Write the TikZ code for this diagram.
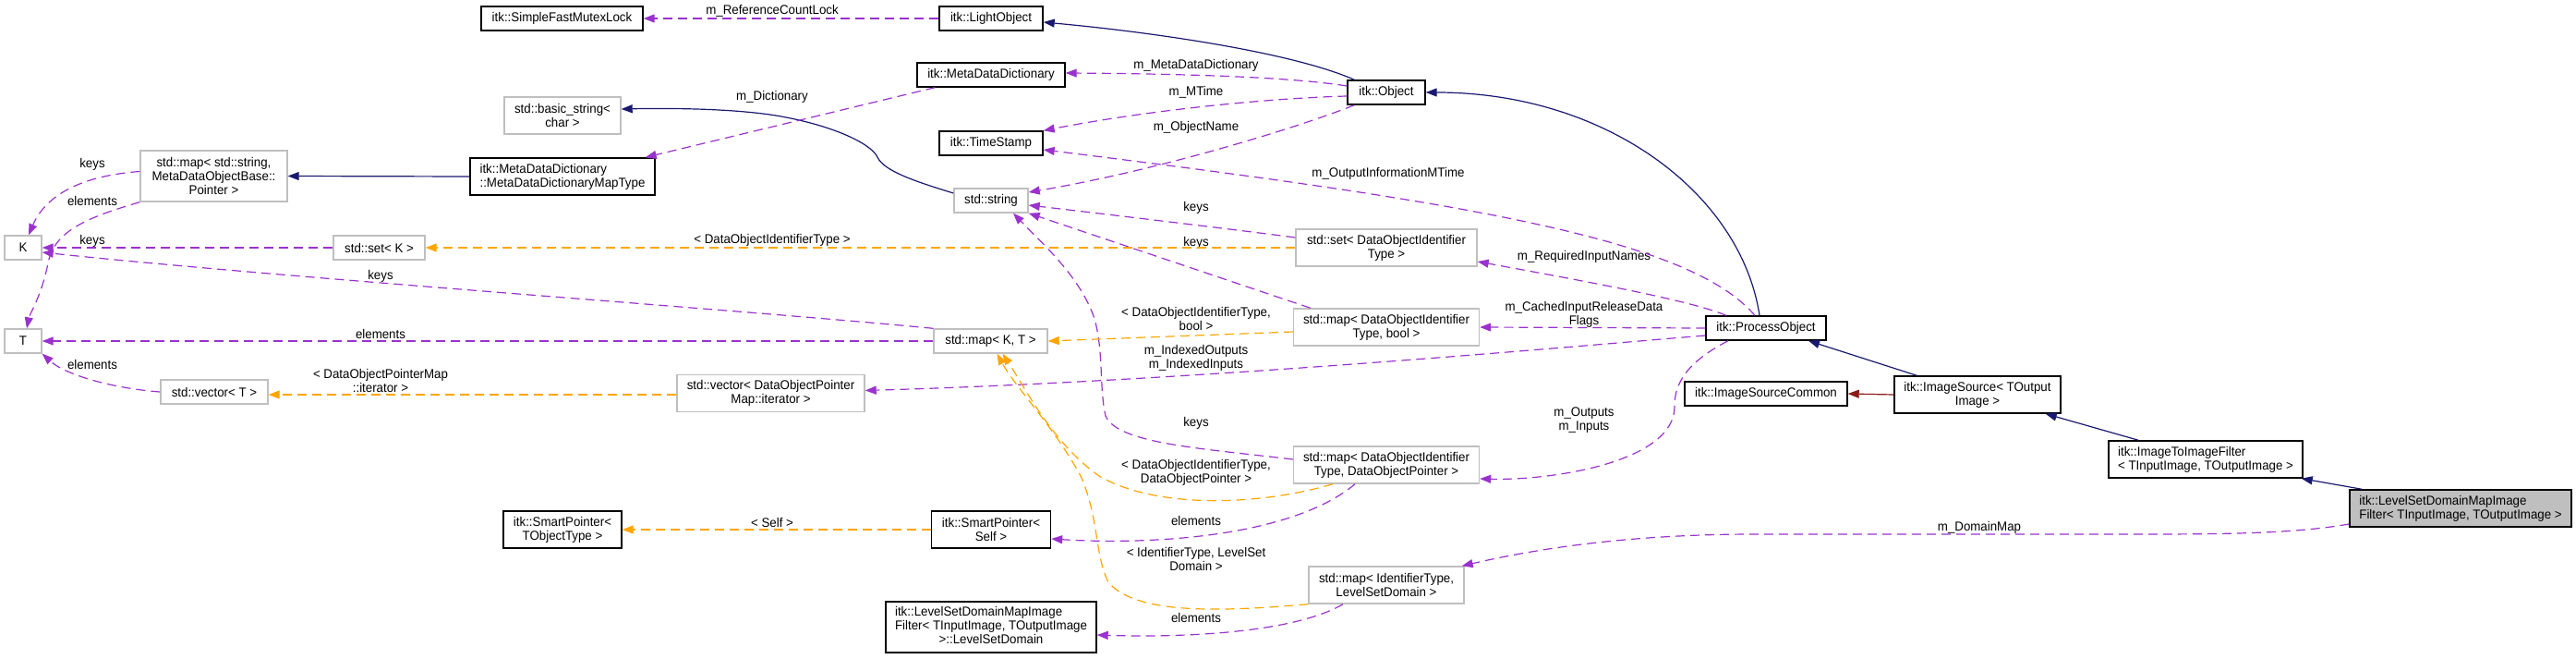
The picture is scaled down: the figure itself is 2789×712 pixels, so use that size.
\documentclass[tikz,border=0pt]{standalone}
\usepackage{fontspec}
\setmainfont{Liberation Sans}[FakeStretch=0.95]
\usetikzlibrary{arrows.meta}
\definecolor{navyc}{HTML}{191970}
\definecolor{purpc}{HTML}{9A32CD}
\definecolor{orngc}{HTML}{FFA500}
\definecolor{dredc}{HTML}{8B1A1A}
\definecolor{gbord}{HTML}{BFBFBF}
\definecolor{gfill}{HTML}{BFBFBF}
\begin{document}
\begin{tikzpicture}[x=1pt,y=-1pt,
  every node/.style={font=\fontsize{14}{15}\selectfont, inner sep=0pt},
  cls/.style={draw=black, line width=1.4pt, fill=white, minimum height=26pt, align=center},
  ucls/.style={draw=gbord, line width=1.4pt, fill=white, minimum height=26pt, align=center},
  two/.style={minimum height=40pt},
  three/.style={minimum height=55pt},
  lbl/.style={align=center},
  tip/.style={-{Triangle[length=12pt,width=9pt]}},
  inh/.style={tip, draw=navyc, line width=1.2pt},
  priv/.style={tip, draw=dredc, line width=1.2pt},
  use/.style={tip, draw=purpc, line width=1.2pt, dash pattern=on 10pt off 6pt},
  tmpl/.style={tip, draw=orngc, line width=1.2pt, dash pattern=on 10pt off 6pt},
]
\useasboundingbox (0,0) rectangle (2789,712);

% ---------- class boxes ----------
\node[cls, minimum width=175pt] (smfl) at (608.5,20) {itk::SimpleFastMutexLock};
\node[cls, minimum width=112pt] (light) at (1073,20) {itk::LightObject};
\node[cls, minimum width=160pt] (mdd) at (1073,81) {itk::MetaDataDictionary};
\node[ucls, two, minimum width=126pt] (bstr) at (609,125) {std::basic\_string<\\char >};
\node[cls, minimum width=112pt] (tstamp) at (1073,155) {itk::TimeStamp};
\node[cls, minimum width=84pt] (obj) at (1501,100) {itk::Object};
\node[ucls, three, minimum width=159pt] (mapss) at (231.5,190.5) {std::map< std::string,\\MetaDataObjectBase::\\Pointer >};
\node[cls, two, minimum width=200pt, align=left] (mddmt) at (609,191) {itk::MetaDataDictionary\\::MetaDataDictionaryMapType};
\node[ucls, minimum width=40pt] (K) at (25,268) {K};
\node[ucls, minimum width=99pt] (setK) at (410.5,268) {std::set< K >};
\node[ucls, minimum width=80pt] (str) at (1073,217) {std::string};
\node[ucls, two, minimum width=196pt] (setD) at (1501,268) {std::set< DataObjectIdentifier\\Type >};
\node[ucls, two, minimum width=201pt] (mapDb) at (1501,354) {std::map< DataObjectIdentifier\\Type, bool >};
\node[cls, minimum width=130pt] (proc) at (1912,355) {itk::ProcessObject};
\node[ucls, minimum width=40pt] (T) at (25,369) {T};
\node[ucls, minimum width=123pt] (mapKT) at (1072.5,369) {std::map< K, T >};
\node[ucls, minimum width=116pt] (vecT) at (232,424) {std::vector< T >};
\node[ucls, two, minimum width=203pt] (vecD) at (834.5,425.5) {std::vector< DataObjectPointer\\Map::iterator >};
\node[cls, minimum width=176pt] (isc) at (1912,426) {itk::ImageSourceCommon};
\node[cls, two, minimum width=180pt] (isrc) at (2141,427) {itk::ImageSource< TOutput\\Image >};
\node[cls, two, minimum width=210pt, align=left] (itif) at (2388,497) {itk::ImageToImageFilter\\< TInputImage, TOutputImage >};
\node[cls, two, minimum width=240pt, align=left, fill=gfill] (lsd) at (2664,550) {itk::LevelSetDomainMapImage\\Filter< TInputImage, TOutputImage >};
\node[ucls, two, minimum width=201pt] (mapDP) at (1501,503) {std::map< DataObjectIdentifier\\Type, DataObjectPointer >};
\node[cls, two, minimum width=128pt] (spT) at (609,573) {itk::SmartPointer<\\TObjectType >};
\node[cls, two, minimum width=129pt] (spS) at (1073,573) {itk::SmartPointer<\\Self >};
\node[ucls, two, minimum width=168pt] (mapIL) at (1501,633) {std::map< IdentifierType,\\LevelSetDomain >};
\node[cls, three, minimum width=228pt] (lsdom) at (1073,678.5) {\begin{tabular}{@{}l@{}}itk::LevelSetDomainMapImage\\Filter< TInputImage, TOutputImage\\\multicolumn{1}{@{}c@{}}{>::LevelSetDomain}\end{tabular}};

% ---------- edge labels ----------
\node[lbl] (l1) at (836,12) {m\_ReferenceCountLock};
\node[lbl] (l2) at (1295,71) {m\_MetaDataDictionary};
\node[lbl] (l3) at (1295,100) {m\_MTime};
\node[lbl] (l4) at (1295,138) {m\_ObjectName};
\node[lbl] (l5) at (836,105) {m\_Dictionary};
\node[lbl] (l6) at (1503,188) {m\_OutputInformationMTime};
\node[lbl] (l7) at (1295,225) {keys};
\node[lbl] (l8) at (1295,263) {keys};
\node[lbl] (l9) at (836,260) {< DataObjectIdentifierType >};
\node[lbl] (l10) at (1715,278) {m\_RequiredInputNames};
\node[lbl] (l11) at (1715,340) {m\_CachedInputReleaseData\\Flags};
\node[lbl] (l12) at (1295,345) {< DataObjectIdentifierType,\\bool >};
\node[lbl] (l13) at (1295,387) {m\_IndexedOutputs\\m\_IndexedInputs};
\node[lbl] (l14) at (1295,458) {keys};
\node[lbl] (l15) at (1715,455) {m\_Outputs\\m\_Inputs};
\node[lbl] (l16) at (1295,511) {< DataObjectIdentifierType,\\DataObjectPointer >};
\node[lbl] (l17) at (1295,563) {elements};
\node[lbl] (l18) at (1295,605) {< IdentifierType, LevelSet\\Domain >};
\node[lbl] (l19) at (1295,668) {elements};
\node[lbl] (l20) at (836,565) {< Self >};
\node[lbl] (l21) at (2143,571) {m\_DomainMap};
\node[lbl] (l22) at (100,178) {keys};
\node[lbl] (l23) at (100,217) {elements};
\node[lbl] (l24) at (100,261) {keys};
\node[lbl] (l25) at (412,299) {keys};
\node[lbl] (l26) at (412,361) {elements};
\node[lbl] (l27) at (100,394) {elements};
\node[lbl] (l28) at (412,412) {< DataObjectPointerMap\\::iterator >};

% ---------- inheritance ----------
\draw[inh] ([xshift=8pt]obj.north west) .. controls (1400,57) and (1250,35) .. ([yshift=-4pt]light.east);
\draw[inh] ([yshift=8pt]str.west) .. controls (990,196) and (957,185) .. (950,170) .. controls (943,155) and (900,135) .. (840,125) .. controls (790,117) and (720,117) .. ([yshift=7pt]bstr.east);
\draw[inh] (mddmt.west) -- (mapss.east);
\draw[inh] ([xshift=-7pt]proc.north) .. controls (1885,210) and (1740,100) .. (obj.east);
\draw[inh] ([xshift=25pt]isrc.north west) -- ([xshift=46pt]proc.south);
\draw[inh] ([xshift=33pt]itif.north west) -- ([xshift=-17pt]isrc.south east);
\draw[inh] ([xshift=14pt]lsd.north west) -- ([xshift=-2pt]itif.south east);
\draw[priv] (isrc.west) -- (isc.east);

% ---------- usage (members) ----------
\draw[use] (light.west) -- (smfl.east);
\draw[use] ([yshift=7pt]obj.west) .. controls (1400,84) and (1300,80) .. ([yshift=2pt]mdd.east);
\draw[use] ([yshift=-4pt]obj.west) .. controls (1380,106) and (1250,118) .. (tstamp.north east);
\draw[use] ([xshift=8pt]obj.south west) .. controls (1400,140) and (1250,185) .. ([yshift=9pt]str.east);
\draw[use] ([xshift=20pt]mdd.south west) -- ([xshift=-11pt]mddmt.north east);
\draw[use] ([xshift=-12pt]proc.north) .. controls (1830,260) and (1600,220) .. ([yshift=-7pt]tstamp.east);
\draw[use] ([xshift=-43pt]proc.north) .. controls (1830,325) and (1720,305) .. ([yshift=-15pt]setD.east);
\draw[use] (proc.west) -- (mapDb.east);
\draw[use] ([yshift=-8pt]proc.west) .. controls (1700,375) and (1300,412) .. ([yshift=3pt]vecD.east);
\draw[use] ([xshift=-41pt]proc.south) .. controls (1820,395) and (1813,420) .. (1813,440) .. controls (1813,500) and (1680,520) .. ([yshift=-15pt]mapDP.east);
\draw[use] ([yshift=-17pt]lsd.west) .. controls (2480,578) and (2400,578) .. (2300,578) -- (1900,578) .. controls (1780,578) and (1680,590) .. ([xshift=-3pt]mapIL.north east);
\draw[use] ([xshift=-34pt]mapDP.south) .. controls (1400,580) and (1250,590) .. ([yshift=-10pt]spS.east);
\draw[use] ([xshift=-47pt]mapIL.south) .. controls (1400,685) and (1280,690) .. ([yshift=-8.5pt]lsdom.east);

% ---------- keys / elements ----------
\draw[use] ([yshift=5pt]mapss.west) .. controls (90,190) and (50,210) .. ([xshift=6pt]K.north);
\draw[use] (mapss.south west) .. controls (95,235) and (58,250) .. (52,285) .. controls (45,320) and (32,340) .. ([xshift=4pt]T.north);
\draw[use] (setK.west) -- (K.east);
\draw[use] (mapKT.north west) .. controls (800,335) and (300,300) .. ([yshift=-5pt]K.east);
\draw[use] (mapKT.west) -- (T.east);
\draw[use] (vecT.west) .. controls (120,420) and (70,405) .. (T.south east);
\draw[use] ([yshift=11pt]setD.west) .. controls (1350,250) and (1200,232) .. ([yshift=-5pt]str.east);
\draw[use] ([xshift=19pt]mapDb.north west) -- (str.south east);
\draw[use] ([yshift=6pt]mapDP.west) .. controls (1300,485) and (1210,480) .. (1197,450) .. controls (1190,420) and (1195,380) .. (1185,345) .. controls (1170,300) and (1130,265) .. ([xshift=24pt]str.south);

% ---------- template instances ----------
\draw[tmpl] (setD.west) -- (setK.east);
\draw[tmpl] ([yshift=-5pt]mapDb.west) -- (mapKT.east);
\draw[tmpl] ([yshift=-1.5pt]vecD.west) -- ([yshift=-3pt]vecT.east);
\draw[tmpl] ([xshift=-58pt]mapDP.south) .. controls (1360,548) and (1250,550) .. (1190,515) .. controls (1140,480) and (1110,420) .. ([xshift=13pt]mapKT.south);
\draw[tmpl] (mapIL.south west) .. controls (1320,662) and (1230,665) .. (1200,630) .. controls (1185,600) and (1190,560) .. (1170,515) .. controls (1140,460) and (1100,420) .. ([xshift=7pt]mapKT.south);
\draw[tmpl] (spS.west) -- (spT.east);
\end{tikzpicture}
\end{document}
